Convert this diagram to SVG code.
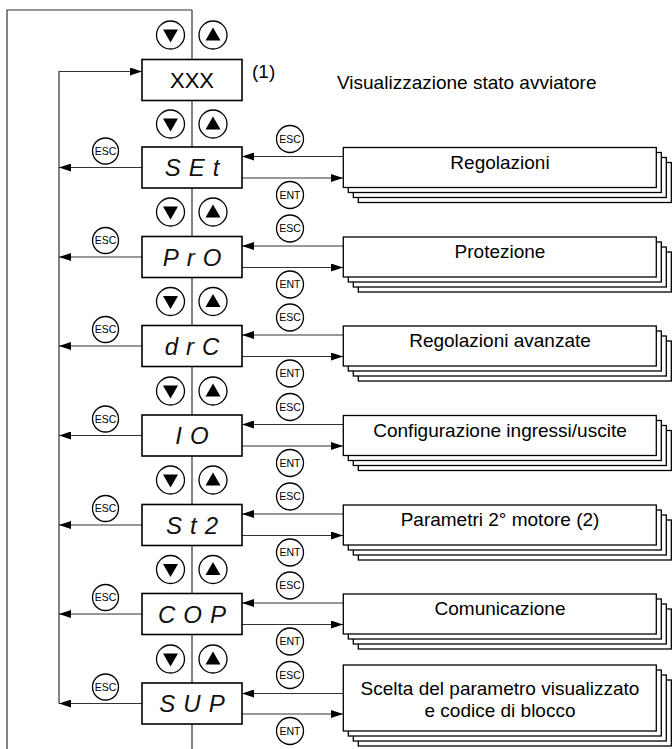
<svg xmlns="http://www.w3.org/2000/svg" width="672" height="749" viewBox="0 0 672 749">
<style>
.ln{fill:none;stroke:#333;stroke-width:1.2}
.arr{fill:none;stroke:#333;stroke-width:1.2;marker-end:url(#ah)}
.box{fill:#fff;stroke:#000;stroke-width:1.6}
.stk{fill:#fff;stroke:#000;stroke-width:1.3}
.btn{fill:#fff;stroke:#000;stroke-width:1.3}
.tri{fill:#000}
.seg{font-family:"Liberation Sans",Arial,sans-serif;font-style:italic;font-size:24px;letter-spacing:8px;text-anchor:middle;fill:#111}
.lbl{font-family:"Liberation Sans",Arial,sans-serif;font-size:19px;text-anchor:middle;fill:#000}
.t{font-family:"Liberation Sans",Arial,sans-serif;font-size:19px;fill:#000}
.k{font-family:"Liberation Sans",Arial,sans-serif;font-size:10.5px;text-anchor:middle;fill:#000}
</style>
<defs>
<marker id="ah" viewBox="0 0 12 8" refX="12" refY="4" markerWidth="12" markerHeight="8" markerUnits="userSpaceOnUse" orient="auto"><path d="M0,0 L12,4 L0,8 z" fill="#000"/></marker>
<g id="dn"><circle class="btn" r="14"/><path class="tri" d="M-7.5,-5.5 L7.5,-5.5 L0,7.5 z"/></g>
<g id="up"><circle class="btn" r="14"/><path class="tri" d="M-7.5,5.5 L7.5,5.5 L0,-7.5 z"/></g>
</defs>

<g id="connectors">
<path class="ln" d="M192,10 H7 V749"/>
<path class="ln" d="M192,10 V749"/>
<path class="arr" d="M59,703.5 V71.5 H142"/>
<path class="arr" d="M142,167.5 H59"/>
<path class="arr" d="M142,257 H59"/>
<path class="arr" d="M142,346 H59"/>
<path class="arr" d="M142,435.5 H59"/>
<path class="arr" d="M142,525 H59"/>
<path class="arr" d="M142,614 H59"/>
<path class="arr" d="M142,703.5 H59"/>
<path class="arr" d="M343,156.5 H242"/><path class="arr" d="M242,178 H343"/>
<path class="arr" d="M343,246 H242"/><path class="arr" d="M242,267.5 H343"/>
<path class="arr" d="M343,335 H242"/><path class="arr" d="M242,356.5 H343"/>
<path class="arr" d="M343,424.5 H242"/><path class="arr" d="M242,446 H343"/>
<path class="arr" d="M343,514 H242"/><path class="arr" d="M242,535.5 H343"/>
<path class="arr" d="M343,603 H242"/><path class="arr" d="M242,624.5 H343"/>
<path class="arr" d="M343,693.5 H242"/><path class="arr" d="M242,714 H343"/>
</g>

<g id="buttons">
<use href="#dn" x="170.5" y="35"/><use href="#up" x="213" y="35"/>
<use href="#dn" x="170.5" y="124"/><use href="#up" x="213" y="124"/>
<use href="#dn" x="170.5" y="212"/><use href="#up" x="213" y="212"/>
<use href="#dn" x="170.5" y="301.5"/><use href="#up" x="213" y="301.5"/>
<use href="#dn" x="170.5" y="391"/><use href="#up" x="213" y="391"/>
<use href="#dn" x="170.5" y="480"/><use href="#up" x="213" y="480"/>
<use href="#dn" x="170.5" y="569.5"/><use href="#up" x="213" y="569.5"/>
<use href="#dn" x="170.5" y="659"/><use href="#up" x="213" y="659"/>
<g>
<circle class="btn" cx="105.5" cy="151" r="13"/><text class="k" x="105.5" y="154.8">ESC</text>
<circle class="btn" cx="105.5" cy="240.5" r="13"/><text class="k" x="105.5" y="244.3">ESC</text>
<circle class="btn" cx="105.5" cy="329.5" r="13"/><text class="k" x="105.5" y="333.3">ESC</text>
<circle class="btn" cx="105.5" cy="419" r="13"/><text class="k" x="105.5" y="422.8">ESC</text>
<circle class="btn" cx="105.5" cy="508.5" r="13"/><text class="k" x="105.5" y="512.3">ESC</text>
<circle class="btn" cx="105.5" cy="597.5" r="13"/><text class="k" x="105.5" y="601.3">ESC</text>
<circle class="btn" cx="105.5" cy="687" r="13"/><text class="k" x="105.5" y="690.8">ESC</text>
</g>
<g>
<circle class="btn" cx="290" cy="139" r="13.5"/><text class="k" x="290" y="142.8">ESC</text>
<circle class="btn" cx="290" cy="195" r="13.5"/><text class="k" x="290" y="198.8">ENT</text>
<circle class="btn" cx="290" cy="228.5" r="13.5"/><text class="k" x="290" y="232.3">ESC</text>
<circle class="btn" cx="290" cy="284.5" r="13.5"/><text class="k" x="290" y="288.3">ENT</text>
<circle class="btn" cx="290" cy="317.5" r="13.5"/><text class="k" x="290" y="321.3">ESC</text>
<circle class="btn" cx="290" cy="373.5" r="13.5"/><text class="k" x="290" y="377.3">ENT</text>
<circle class="btn" cx="290" cy="407" r="13.5"/><text class="k" x="290" y="410.8">ESC</text>
<circle class="btn" cx="290" cy="463" r="13.5"/><text class="k" x="290" y="466.8">ENT</text>
<circle class="btn" cx="290" cy="496.5" r="13.5"/><text class="k" x="290" y="500.3">ESC</text>
<circle class="btn" cx="290" cy="552.5" r="13.5"/><text class="k" x="290" y="556.3">ENT</text>
<circle class="btn" cx="290" cy="585.5" r="13.5"/><text class="k" x="290" y="589.3">ESC</text>
<circle class="btn" cx="290" cy="641.5" r="13.5"/><text class="k" x="290" y="645.3">ENT</text>
<circle class="btn" cx="290" cy="675" r="13.5"/><text class="k" x="290" y="678.8">ESC</text>
<circle class="btn" cx="290" cy="731" r="13.5"/><text class="k" x="290" y="734.8">ENT</text>
</g>
</g>

<g id="node-xxx">
<rect class="box" x="142" y="59.5" width="100" height="41"/>
<text x="192" y="87.5" font-family="Liberation Sans, Arial, sans-serif" font-size="22" text-anchor="middle">XXX</text>
<text class="t" x="252" y="78" font-size="18">(1)</text>
<text class="t" x="337" y="88.5">Visualizzazione stato avviatore</text>
</g>

<g id="node-set"><rect class="box" x="142" y="147" width="100" height="41"/><text class="seg" x="196" y="176">SEt</text></g>
<g id="node-pro"><rect class="box" x="142" y="236.5" width="100" height="41"/><text class="seg" x="196" y="265.5">PrO</text></g>
<g id="node-drc"><rect class="box" x="142" y="325.5" width="100" height="41"/><text class="seg" x="196" y="354.5">drC</text></g>
<g id="node-io"><rect class="box" x="142" y="415" width="100" height="41"/><text class="seg" x="196" y="444">IO</text></g>
<g id="node-st2"><rect class="box" x="142" y="504.5" width="100" height="41"/><text class="seg" x="196" y="533.5">St2</text></g>
<g id="node-cop"><rect class="box" x="142" y="593.5" width="100" height="41"/><text class="seg" x="196" y="622.5">COP</text></g>
<g id="node-sup"><rect class="box" x="142" y="683" width="100" height="41"/><text class="seg" x="196" y="712">SUP</text></g>

<g id="menu-regolazioni">
<rect class="stk" x="358.3" y="162.5" width="313" height="40"/><rect class="stk" x="353.3" y="157.5" width="313" height="40"/><rect class="stk" x="348.3" y="152.5" width="313" height="40"/><rect class="stk" x="343.3" y="147.5" width="313" height="40"/>
<text class="lbl" x="500" y="168.5">Regolazioni</text>
</g>
<g id="menu-protezione">
<rect class="stk" x="358.3" y="252" width="313" height="40"/><rect class="stk" x="353.3" y="247" width="313" height="40"/><rect class="stk" x="348.3" y="242" width="313" height="40"/><rect class="stk" x="343.3" y="237" width="313" height="40"/>
<text class="lbl" x="500" y="258">Protezione</text>
</g>
<g id="menu-avanzate">
<rect class="stk" x="358.3" y="341" width="313" height="40"/><rect class="stk" x="353.3" y="336" width="313" height="40"/><rect class="stk" x="348.3" y="331" width="313" height="40"/><rect class="stk" x="343.3" y="326" width="313" height="40"/>
<text class="lbl" x="500" y="347">Regolazioni avanzate</text>
</g>
<g id="menu-io">
<rect class="stk" x="358.3" y="430.5" width="313" height="40"/><rect class="stk" x="353.3" y="425.5" width="313" height="40"/><rect class="stk" x="348.3" y="420.5" width="313" height="40"/><rect class="stk" x="343.3" y="415.5" width="313" height="40"/>
<text class="lbl" x="500" y="436.5">Configurazione ingressi/uscite</text>
</g>
<g id="menu-motore2">
<rect class="stk" x="358.3" y="520" width="313" height="40"/><rect class="stk" x="353.3" y="515" width="313" height="40"/><rect class="stk" x="348.3" y="510" width="313" height="40"/><rect class="stk" x="343.3" y="505" width="313" height="40"/>
<text class="lbl" x="500" y="526">Parametri 2° motore (2)</text>
</g>
<g id="menu-comunicazione">
<rect class="stk" x="358.3" y="609" width="313" height="40"/><rect class="stk" x="353.3" y="604" width="313" height="40"/><rect class="stk" x="348.3" y="599" width="313" height="40"/><rect class="stk" x="343.3" y="594" width="313" height="40"/>
<text class="lbl" x="500" y="615">Comunicazione</text>
</g>
<g id="menu-sup">
<rect class="stk" x="358.3" y="680" width="313" height="66"/><rect class="stk" x="353.3" y="675" width="313" height="66"/><rect class="stk" x="348.3" y="670" width="313" height="66"/><rect class="stk" x="343.3" y="665" width="313" height="66"/>
<text class="lbl" x="500" y="695">Scelta del parametro visualizzato</text>
<text class="lbl" x="500" y="717">e codice di blocco</text>
</g>
</svg>
